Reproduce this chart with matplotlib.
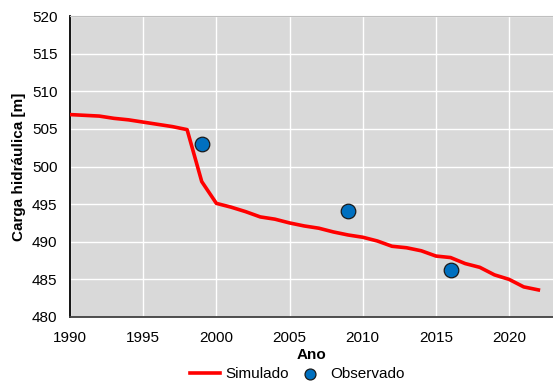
import matplotlib
matplotlib.use("Agg")
import matplotlib.pyplot as plt

plt.rcParams['font.family'] = ['Liberation Sans', 'DejaVu Sans']

sim_years = [1990, 1992, 1993, 1994, 1995, 1996, 1997, 1998, 1999, 2000, 2001, 2002, 2003,
             2004, 2005, 2006, 2007, 2008, 2009, 2010, 2011, 2012, 2013, 2014, 2015,
             2016, 2017, 2018, 2019, 2020, 2021, 2022]
sim_values = [506.9, 506.7, 506.4, 506.2, 505.9, 505.6, 505.3, 504.9, 498.0, 495.1, 494.6,
              494.0, 493.3, 493.0, 492.5, 492.1, 491.8, 491.3, 490.9, 490.6, 490.1, 489.4,
              489.2, 488.8, 488.1, 487.9, 487.1, 486.6, 485.6, 485.0, 484.0, 483.6]
obs_years = [1999, 2009, 2016]
obs_values = [503.0, 494.1, 486.3]

fig = plt.figure(figsize=(5.53, 3.85), dpi=100)
ax = fig.add_axes([70/553, 1 - 317/385, (553-70)/553, (317-16)/385])
ax.set_facecolor('#d9d9d9')
ax.plot(sim_years, sim_values, color='#ff0000', lw=2.6, label='Simulado', zorder=3)
ax.scatter(obs_years, obs_values, s=110, color='#0070c0', edgecolor='#1a1a1a', lw=0.9,
           label='Observado', zorder=4)
ax.set_xlim(1990, 2023)
ax.set_ylim(480, 520)
ax.set_xticks(range(1990, 2021, 5))
ax.set_yticks(range(480, 521, 5))
ax.grid(True, color='white', lw=1.0)
ax.set_axisbelow(True)
ax.tick_params(length=0, labelsize=11)
ax.tick_params(axis='y', pad=9)
ax.tick_params(axis='x', pad=10)
ax.spines['top'].set_color('#bfbfbf')
ax.spines['right'].set_visible(False)
ax.spines['left'].set_color('black')
ax.spines['bottom'].set_color('#404040')
ax.spines['left'].set_linewidth(1.3)
ax.spines['bottom'].set_linewidth(1.3)
ax.set_xlabel('Ano', fontweight='bold', fontsize=11, labelpad=2)
ax.set_ylabel('Carga hidráulica [m]', fontweight='bold', fontsize=11, labelpad=4)
ax.legend(loc='center', bbox_to_anchor=(0.47, -0.19), ncol=2, frameon=False,
          fontsize=11, handlelength=2.0, columnspacing=0.4, handletextpad=0.3,
          markerscale=0.75, borderaxespad=0)
fig.savefig('out.png', dpi=100)
